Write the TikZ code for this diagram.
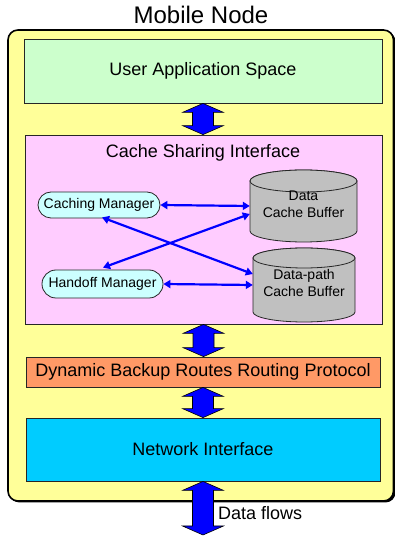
\documentclass[tikz,border=0pt]{standalone}
\usepackage{fontspec}
\setmainfont{Liberation Sans}
\usetikzlibrary{arrows.meta,calc}
\definecolor{outerC}{HTML}{FFFF99}
\definecolor{uasC}{HTML}{CCFFCC}
\definecolor{csiC}{HTML}{FFCCFF}
\definecolor{mgrC}{HTML}{CCFFFF}
\definecolor{cylC}{HTML}{C0C0C0}
\definecolor{dbrC}{HTML}{FF9966}
\definecolor{niC}{HTML}{00CCFF}
\newcommand\udarrow[2]{%
  \path[bigarrow] let \p1=(#1), \p2=(#2) in
    (\x1,\y1) -- ++(20.5,-9) -- ++(-10,0) -- (\x1+10.5pt,\y2+9pt) -- ++(10,0)
    -- (\x1,\y2) -- ++(-20.5,9) -- ++(10,0) -- (\x1-10.5pt,\y1-9pt) -- ++(-10,0) -- cycle;}
\begin{document}
\begin{tikzpicture}[x=1pt,y=1pt,
  layer/.style={draw=black!85, line width=0.8pt, inner sep=0pt, font=\fontsize{18}{21.6}\selectfont},
  mgr/.style={draw=black!85, fill=mgrC, line width=0.8pt, inner sep=0pt, font=\fontsize{14}{17}\selectfont},
  cyltxt/.style={font=\fontsize{14}{17}\selectfont, align=center, inner sep=0pt},
  cylbody/.style={draw=black!85, fill=cylC, line width=0.8pt},
  link/.style={draw=blue, line width=2.2pt, {Triangle[length=7pt,width=8pt]}-{Triangle[length=7pt,width=8pt]}},
  bigarrow/.style={draw=black, fill=blue, line width=0.6pt, line join=miter}]
\useasboundingbox (0,0) rectangle (395,536);
% outer box
\fill[black, rounded corners=10pt] (9.5,33.5) rectangle (395.5,504.5);
\draw[fill=outerC, line width=1.6pt, rounded corners=10pt] (8,35) rectangle (393.5,506);
\node[font=\fontsize{24}{28}\selectfont, inner sep=0pt] (title) at (201,521) {Mobile Node};
% layers
\node[layer, fill=uasC, minimum width=358pt, minimum height=64pt] (uas) at (203,465) {User Application Space};
\node[layer, fill=csiC, minimum width=357pt, minimum height=189pt] (csi) at (203.5,306.5) {};
\node[font=\fontsize{18}{21.6}\selectfont, inner sep=0pt] (csit) at (203,383) {Cache Sharing Interface};
\node[layer, fill=dbrC, minimum width=354pt, minimum height=30pt] (dbr) at (203,164) {Dynamic Backup Routes Routing Protocol};
\node[layer, fill=niC, minimum width=354pt, minimum height=63pt] (ni) at (203,86.5) {Network Interface};
% managers
\node[mgr, rounded corners=13pt, minimum width=122pt, minimum height=26pt] (cm) at (99,331) {Caching Manager};
\node[mgr, rounded corners=14pt, minimum width=121pt, minimum height=28pt] (hm) at (102.5,252) {Handoff Manager};
% cylinders
\path[cylbody] (250,355) -- (250,305) arc[start angle=180, end angle=360, x radius=53.5, y radius=11]
  -- (357,355) arc[start angle=0, end angle=180, x radius=53.5, y radius=11] -- cycle;
\path[cylbody] (303.5,355) ellipse[x radius=53.5, y radius=11];
\node[cyltxt, minimum width=107pt, minimum height=72pt] (dcb) at (303.5,330) {\raisebox{-5.5pt}{\begin{tabular}{@{}c@{}}Data\\Cache Buffer\end{tabular}}};
\path[cylbody] (253,278) -- (253,224) arc[start angle=180, end angle=360, x radius=51, y radius=10]
  -- (355,278) arc[start angle=0, end angle=180, x radius=51, y radius=10] -- cycle;
\path[cylbody] (304,278) ellipse[x radius=51, y radius=10];
\node[cyltxt, minimum width=102pt, minimum height=74pt] (dpcb) at (304,251) {\raisebox{-4.5pt}{\begin{tabular}{@{}c@{}}Data-path\\Cache Buffer\end{tabular}}};
% links
\draw[link] (cm.east) -- (dcb.west);
\draw[link] (hm.east) -- (dpcb.west);
\draw[link] ($(cm.south)+(3,1)$) -- ($(dpcb.west)+(0,11)$);
\draw[link] ($(hm.north)+(0.5,2)$) -- ($(dcb.west)+(0,-8)$);
% big arrows
\udarrow{uas.south}{csi.north}
\udarrow{csi.south}{dbr.north}
\udarrow{dbr.south}{ni.north}
\coordinate (out) at (203,1);
\udarrow{ni.south}{out}
\node[font=\fontsize{18}{21.6}\selectfont, inner sep=0pt, anchor=west] (df) at (218,23) {Data flows};
\end{tikzpicture}
\end{document}
